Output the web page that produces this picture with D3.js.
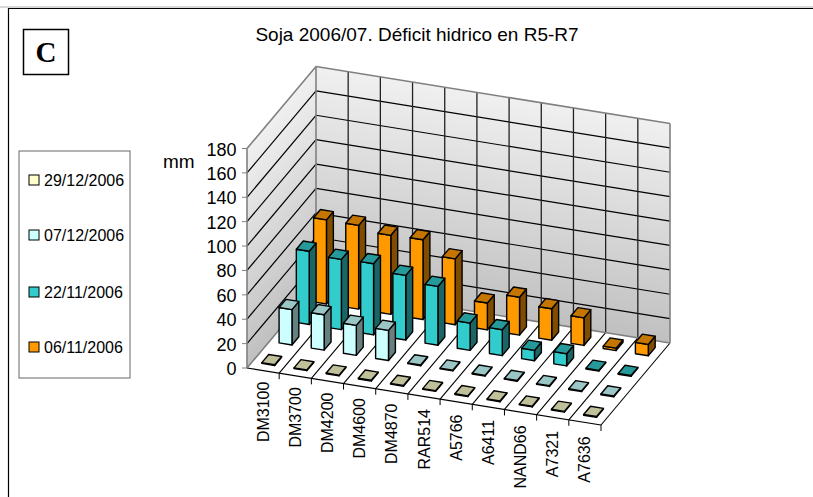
<!DOCTYPE html>
<html><head><meta charset="utf-8">
<script src="https://cdn.jsdelivr.net/npm/d3@7"></script>
<style>html,body{margin:0;padding:0;background:#fff}svg{display:block}text{font-family:"Liberation Sans",Arial,sans-serif;fill:#000}</style>
</head><body><svg id="c" width="813" height="497"></svg>
<script>
const categories=["DM3100","DM3700","DM4200","DM4600","DM4870","RAR514","A5766","A6411","NAND66","A7321","A7636"];
const seriesNames=["29/12/2006","07/12/2006","22/11/2006","06/11/2006"];
const dec29=[0.6,0.6,0.6,0.6,0.6,0.6,0.6,0.6,0.6,0.6,0.6];
const dec07=[29,29,24.6,24.7,0.6,0.6,0.6,0.6,0.6,0.6,0.6];
const nov22=[60,57.6,58.3,53,48.2,22.4,21.2,8.5,10,0.6,0.6];
const nov06=[69,68.7,64.8,65.4,54,22,31,25.8,22.6,2,9.3];
const yTicks=[0,20,40,60,80,100,120,140,160,180];
const fronts=["#ffffcc","#ccffff","#33cccc","#ff9900"];
const tops=["#c0c09a","#9ac6c6","#269a9a","#c47600"];
const sides=["#808066","#668080","#1a6666","#804d00"];

const svg=d3.select("#c");
const O=[247,368],XV=[354,57],DV=[69,-82];
const h=d3.scaleLinear().domain([0,180]).range([0,219.5]);
const cx=d3.scaleBand().domain(categories).range([0,1]);
const rz=d3.scaleBand().domain(seriesNames).range([0,1]);
const P=(u,d,v)=>[O[0]+u*XV[0]+d*DV[0],O[1]+u*XV[1]+d*DV[1]-h(v)];
const line=pts=>"M"+pts.map(p=>p.join(",")).join("L")+"Z";
const L=(a,b,st,w)=>svg.append("line").attr("x1",a[0]).attr("y1",a[1]).attr("x2",b[0]).attr("y2",b[1]).attr("stroke",st).attr("stroke-width",w);

// frame: only top and left edges are visible
L([0,7],[813,7],"#b0b0b0",1);
L([8,8.5],[813,8.5],"#000",1.2);
L([8.5,8],[8.5,497],"#000",1.2);

// walls: gradient runs perpendicular to each wall's skewed horizontal
const defs=svg.append("defs");
function wallGrad(id,start,dir){
  const len=Math.hypot(dir[0],dir[1]);
  const n=[Math.abs(dir[1])/len,Math.abs(dir[0])/len];
  const H=h(180);
  const g=defs.append("linearGradient").attr("id",id).attr("gradientUnits","userSpaceOnUse")
   .attr("x1",start[0]).attr("y1",start[1])
   .attr("x2",start[0]+(dir[1]<0?1:-1)*n[0]*n[1]*H).attr("y2",start[1]+n[1]*n[1]*H);
  g.append("stop").attr("offset",0).attr("stop-color","#f0f0f0");
  g.append("stop").attr("offset",1).attr("stop-color","#c0c0c0");
}
wallGrad("gs",P(0,0,180),DV);
wallGrad("gb",P(0,1,180),XV);
svg.append("path").attr("d",line([P(0,0,180),P(0,1,180),P(0,1,0),P(0,0,0)])).attr("fill","url(#gs)");
svg.append("path").attr("d",line([P(0,1,180),P(1,1,180),P(1,1,0),P(0,1,0)])).attr("fill","url(#gb)");
svg.append("path").attr("d",line([P(0,0,0),P(1,0,0),P(1,1,0),P(0,1,0)])).attr("fill","#fff");

// gridlines
yTicks.slice(1,-1).forEach(v=>{L(P(0,0,v),P(0,1,v),"#000",1.2);L(P(0,1,v),P(1,1,v),"#000",1.2);});
const ux=i=>i/categories.length;
d3.range(1,categories.length).forEach(i=>{L(P(ux(i),1,0),P(ux(i),1,180),"#222",1.3);});
d3.range(1,categories.length+1).forEach(i=>{L(P(ux(i),0,0),P(ux(i),1,0),"#000",1.1);});
[[P(0,0,0),P(0,1,0)],[P(0,1,0),P(0,1,180)],[P(0,1,180),P(0,0,180)],[P(0,1,180),P(1,1,180)],[P(1,1,180),P(1,1,0)],[P(1,1,0),P(0,1,0)]]
 .forEach(s=>L(s[0],s[1],"#808080",1.6));

// bars, back row first
const rows=[dec29,dec07,nov22,nov06];
const bw=0.4;
d3.range(3,-1,-1).forEach(r=>{
  const g=svg.append("g").attr("stroke","#000").attr("stroke-width",1.4).attr("stroke-linejoin","round");
  categories.forEach((c,i)=>{
    const v=rows[r][i];
    const u0=cx(c)+cx.bandwidth()*(1-bw)/2,u1=u0+cx.bandwidth()*bw;
    const d0=rz(seriesNames[r])+rz.bandwidth()*(1-bw)/2,d1=d0+rz.bandwidth()*bw;
    g.append("path").attr("fill",sides[r]).attr("d",line([P(u1,d0,0),P(u1,d1,0),P(u1,d1,v),P(u1,d0,v)]));
    g.append("path").attr("fill",fronts[r]).attr("d",line([P(u0,d0,0),P(u1,d0,0),P(u1,d0,v),P(u0,d0,v)]));
    g.append("path").attr("fill",tops[r]).attr("d",line([P(u0,d0,v),P(u1,d0,v),P(u1,d1,v),P(u0,d1,v)]));
  });
});

// axes
L(P(0,0,0),P(1,0,0),"#000",1.2);
categories.forEach((c,i)=>{
  const a=P(ux(i+1),0,0);L(a,[a[0],a[1]+6],"#000",1);
  const m=P(cx(c)+cx.bandwidth()/2,0,0);
  svg.append("text").attr("transform",`translate(${m[0]+5.5},${m[1]+11+0.3*i}) rotate(-90)`)
    .attr("text-anchor","end").attr("font-size",16).attr("fill","#111").text(c);
});
L(P(0,0,0),P(0,0,180),"#808080",1.6);
yTicks.forEach(v=>{
  const a=P(0,0,v);
  L([a[0]-5,a[1]],a,"#808080",1);
  svg.append("text").attr("x",a[0]-10.5).attr("y",a[1]+7).attr("text-anchor","end").attr("font-size",18).text(v);
});
svg.append("text").attr("x",163).attr("y",168).attr("font-size",19).text("mm");
svg.append("text").attr("x",417).attr("y",41).attr("text-anchor","middle").attr("font-size",19).text("Soja 2006/07. Déficit hidrico en R5-R7");

// C box
svg.append("rect").attr("x",23.5).attr("y",29.5).attr("width",45).attr("height",45).attr("fill","#fff").attr("stroke","#000").attr("stroke-width",1.5);
svg.append("text").attr("x",46).attr("y",62).attr("text-anchor","middle").attr("font-size",29).attr("font-weight","bold").style("font-family","'Liberation Serif',serif").text("C");

// legend
svg.append("rect").attr("x",19).attr("y",151).attr("width",111).attr("height",227).attr("fill","#fff").attr("stroke","#666").attr("stroke-width",1);
const ly=[180,235,292,347];
seriesNames.forEach((s,i)=>{
  svg.append("rect").attr("x",29).attr("y",ly[i]-5).attr("width",10).attr("height",10).attr("fill",fronts[i]).attr("stroke","#000").attr("stroke-width",1);
  svg.append("text").attr("x",44).attr("y",ly[i]+6).attr("font-size",16).text(s);
});
</script></body></html>
